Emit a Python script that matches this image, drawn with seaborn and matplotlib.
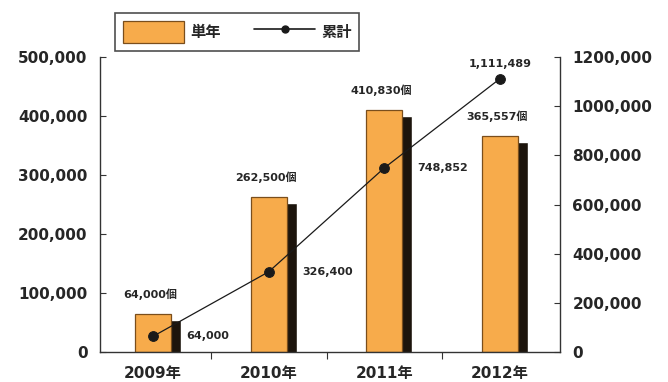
import numpy as np
import pandas as pd
import matplotlib
matplotlib.use("Agg")
import matplotlib.pyplot as plt
from matplotlib.transforms import ScaledTranslation
from matplotlib.patches import Patch
from matplotlib.lines import Line2D
from matplotlib.ticker import FixedLocator
import seaborn as sns

# --- data ---
years = ["2009年", "2010年", "2011年", "2012年"]
annual = [64000, 262500, 410830, 365557]
cumulative = [64000, 326400, 748852, 1111489]
annual_labels = ["64,000個", "262,500個", "410,830個", "365,557個"]
cumulative_labels = ["64,000", "326,400", "748,852", "1,111,489"]
left_ticks = [0, 100000, 200000, 300000, 400000, 500000]
left_tick_labels = ["0", "100,000", "200,000", "300,000", "400,000", "500,000"]
right_ticks = [0, 200000, 400000, 600000, 800000, 1000000, 1200000]
right_tick_labels = ["0", "200,000", "400,000", "600,000", "800,000", "1000,000", "1200,000"]
legend_labels = ["単年", "累計"]

sns.set_theme(style="white")
plt.rcParams["font.family"] = ["DejaVu Sans", "Noto Sans CJK JP"]
plt.rcParams["font.weight"] = "bold"

ORANGE = "#F7AB4B"
EDGE = "#7a4e1c"
SHADOW = "#1c140c"

df = pd.DataFrame({"year": years, "annual": annual, "cumulative": cumulative,
                   "pos": np.arange(len(years))})

fig = plt.figure(figsize=(6.68, 3.82), dpi=100)
ax = fig.add_axes([0.1497, 0.0785, 0.6886, 0.7723])

# dark drop shadow behind each bar
sns.barplot(data=df, x="year", y="annual", color=SHADOW, width=0.31,
            saturation=1, ax=ax, zorder=1)
shift = ScaledTranslation(0.10, -0.06, fig.dpi_scale_trans)
for p in ax.patches:
    p.set_transform(ax.transData + shift)
n_shadow = len(ax.patches)

# orange bars on top
sns.barplot(data=df, x="year", y="annual", color=ORANGE, width=0.31,
            saturation=1, ax=ax, zorder=2)
for p in ax.patches[n_shadow:]:
    p.set_edgecolor(EDGE)
    p.set_linewidth(0.9)

ax.set_xlim(-0.46, 3.52)
ax.set_ylim(0, 500000)
ax.set_yticks(left_ticks)
ax.set_yticklabels(left_tick_labels)
ax.set_xlabel("")
ax.set_ylabel("")
ax.xaxis.set_minor_locator(FixedLocator([0.5, 1.5, 2.5]))
ax.tick_params(axis="x", which="major", length=0, pad=10, labelsize=11)
ax.tick_params(axis="x", which="minor", length=5, direction="out", width=0.8,
               color="#333333", bottom=True)
ax.tick_params(axis="y", length=4, direction="in", width=0.8, color="#333333",
               labelsize=11, pad=9)
for s in ["top", "right"]:
    ax.spines[s].set_visible(False)
for s in ["left", "bottom"]:
    ax.spines[s].set_color("#333333")
    ax.spines[s].set_linewidth(1.0)

for i, (v, lab) in enumerate(zip(annual, annual_labels)):
    ax.annotate(lab, (i, v), xytext=(-2, 10), textcoords="offset points",
                ha="center", va="bottom", fontsize=8, fontweight="bold")

# cumulative line on the secondary axis
ax2 = ax.twinx()
sns.lineplot(data=df, x="pos", y="cumulative", ax=ax2, color="#1a1a1a",
             linewidth=0.9, marker="o", markersize=7, markeredgecolor="#1a1a1a",
             zorder=5)
ax2.set_ylim(0, 1200000)
ax2.set_yticks(right_ticks)
ax2.set_yticklabels(right_tick_labels)
ax2.set_xlim(-0.46, 3.52)
ax2.set_ylabel("")
ax2.set_xlabel("")
ax2.tick_params(axis="y", length=4, direction="in", width=0.8, color="#333333",
                labelsize=11, pad=9)
for s in ["top", "left", "bottom"]:
    ax2.spines[s].set_visible(False)
ax2.spines["right"].set_color("#333333")
ax2.spines["right"].set_linewidth(1.0)

for i, (v, lab) in enumerate(zip(cumulative, cumulative_labels)):
    if i == len(cumulative) - 1:
        ax2.annotate(lab, (i, v), xytext=(0, 7), textcoords="offset points",
                     ha="center", va="bottom", fontsize=8, fontweight="bold")
    else:
        ax2.annotate(lab, (i, v), xytext=(24, 0), textcoords="offset points",
                     ha="left", va="center", fontsize=8, fontweight="bold")

handles = [
    Patch(facecolor=ORANGE, edgecolor=EDGE, linewidth=0.9),
    Line2D([], [], color="#1a1a1a", linewidth=1.2, marker="o", markersize=5),
]
leg = fig.legend(handles, legend_labels, loc="upper left",
                 bbox_to_anchor=(115 / 668, 1 - 13 / 382), borderaxespad=0,
                 ncol=2, fontsize=11, frameon=True, fancybox=False,
                 handlelength=4.0, handleheight=1.9, columnspacing=2.2,
                 handletextpad=0.4, borderpad=0.5)
leg.get_frame().set_edgecolor("#222222")
leg.get_frame().set_linewidth(1.2)
for t in leg.get_texts():
    t.set_fontweight("bold")

fig.savefig("out.png", dpi=100, facecolor="white")
